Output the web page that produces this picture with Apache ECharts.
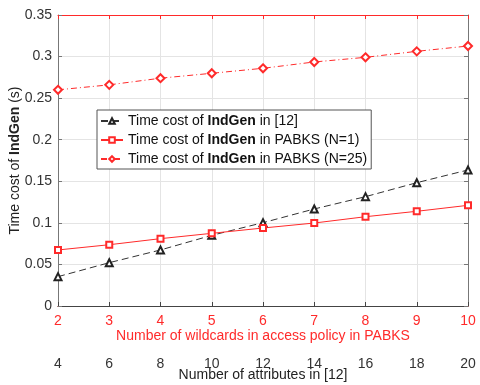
<!DOCTYPE html>
<html lang="en">
<head>
    <meta charset="UTF-8">
    <title>IndGen time cost</title>
    <script src="https://cdn.jsdelivr.net/npm/echarts@6/dist/echarts.min.js"></script>
    <style>
        html, body { margin: 0; padding: 0; background: #fff; }
        #chart { width: 480px; height: 385px; }
    </style>
</head>
<body>
    <div id="chart"></div>
    <script>
        // x values
        var wildcards = [2, 3, 4, 5, 6, 7, 8, 9, 10];
        var attributes = [4, 6, 8, 10, 12, 14, 16, 18, 20];

        // time cost (s)
        var costRef12 = [0.0353, 0.0521, 0.0674, 0.0850, 0.1002, 0.1167, 0.1315, 0.1483, 0.1636];
        var costN1 = [0.0674, 0.0737, 0.0810, 0.0874, 0.0938, 0.0998, 0.1074, 0.1139, 0.1211];
        var costN25 = [0.2600, 0.2660, 0.2740, 0.2799, 0.2859, 0.2935, 0.2991, 0.3063, 0.3127];

        var legendNames = ['ref12', 'n1', 'n25'];
        var legendText = {
            ref12: 'Time cost of {b|IndGen} in [12]',
            n1: 'Time cost of {b|IndGen} in PABKS (N=1)',
            n25: 'Time cost of {b|IndGen} in PABKS (N=25)'
        };

        function pairs(xs, ys) {
            return xs.map(function (x, i) { return [x, ys[i]]; });
        }

        var font = 'Liberation Sans';
        var red = '#ff2a2a';
        var chart = echarts.init(document.getElementById('chart'));

        var option = {
            textStyle: { fontFamily: font },
            animation: false,
            grid: { left: 58, right: 12, top: 15, bottom: 79, containLabel: false, outerBoundsMode: 'none' },
            legend: {
                data: legendNames,
                orient: 'vertical',
                left: 97,
                top: 110,
                backgroundColor: '#fff',
                borderColor: '#555',
                borderWidth: 1,
                padding: [4, 4, 3, 3],
                itemGap: 5,
                itemWidth: 22,
                itemHeight: 7,
                formatter: function (n) { return legendText[n]; },
                textStyle: {
                    fontFamily: font, fontSize: 14, color: '#111',
                    rich: { b: { fontWeight: 'bold', fontSize: 14, fontFamily: font, color: '#111' } }
                }
            },
            xAxis: [
                {
                    type: 'value', position: 'bottom', min: 2, max: 10, interval: 1,
                    name: 'Number of wildcards in access policy in PABKS',
                    nameLocation: 'middle', nameGap: 23, nameMoveOverlap: false,
                    nameTextStyle: { color: red, fontSize: 14, fontFamily: font },
                    axisLine: { lineStyle: { color: red } },
                    axisTick: { inside: true, length: 4, lineStyle: { color: red } },
                    axisLabel: { color: red, fontSize: 14, margin: 8, fontFamily: font },
                    splitLine: { show: true, lineStyle: { color: '#e4e4e4' } }
                },
                {
                    type: 'value', position: 'bottom', offset: 41, min: 4, max: 20, interval: 2,
                    name: 'Number of attributes in [12]',
                    nameLocation: 'middle', nameGap: 21, nameMoveOverlap: false,
                    nameTextStyle: { color: '#222', fontSize: 14, fontFamily: font },
                    axisLine: { lineStyle: { color: '#444' } },
                    axisTick: { inside: true, length: 4, lineStyle: { color: '#444' } },
                    axisLabel: { color: '#333', fontSize: 14, margin: 10, fontFamily: font },
                    splitLine: { show: false }
                },
                {
                    type: 'value', position: 'top', min: 2, max: 10, interval: 1,
                    axisLine: { lineStyle: { color: red } },
                    axisTick: { inside: true, length: 4, lineStyle: { color: red } },
                    axisLabel: { show: false },
                    splitLine: { show: false }
                }
            ],
            yAxis: [
                {
                    type: 'value', min: 0, max: 0.35, interval: 0.05,
                    name: 'Time cost of {b|IndGen} (s)',
                    nameLocation: 'middle', nameGap: 36, nameMoveOverlap: false,
                    nameTextStyle: {
                        color: '#222', fontSize: 14, fontFamily: font,
                        rich: { b: { fontWeight: 'bold', fontSize: 14, fontFamily: font, color: '#222' } }
                    },
                    axisLine: { show: true, lineStyle: { color: '#777' } },
                    axisTick: { inside: true, length: 4, lineStyle: { color: '#777' } },
                    axisLabel: {
                        color: '#333', fontSize: 14, margin: 6, fontFamily: font,
                        formatter: function (v) { return +v.toFixed(2) + ''; }
                    },
                    splitLine: { show: true, lineStyle: { color: '#e4e4e4' } }
                },
                {
                    type: 'value', position: 'right', min: 0, max: 0.35, interval: 0.05,
                    axisLine: { show: true, lineStyle: { color: '#777' } },
                    axisTick: { inside: true, length: 4, lineStyle: { color: '#777' } },
                    axisLabel: { show: false },
                    splitLine: { show: false }
                }
            ],
            series: [
                {
                    name: 'ref12', type: 'line', xAxisIndex: 1,
                    data: pairs(attributes, costRef12),
                    symbol: 'emptyTriangle', symbolSize: 7,
                    itemStyle: { color: '#222', borderWidth: 1 },
                    lineStyle: { color: '#333', width: 1, type: [7, 4] }
                },
                {
                    name: 'n1', type: 'line', xAxisIndex: 0,
                    data: pairs(wildcards, costN1),
                    symbol: 'emptyRect', symbolSize: 6,
                    itemStyle: { color: red, borderWidth: 1 },
                    lineStyle: { color: red, width: 1 }
                },
                {
                    name: 'n25', type: 'line', xAxisIndex: 0,
                    data: pairs(wildcards, costN25),
                    symbol: 'emptyDiamond', symbolSize: 8,
                    itemStyle: { color: red, borderWidth: 1 },
                    lineStyle: { color: red, width: 1, type: [6, 3, 1, 3] }
                }
            ]
        };

        chart.setOption(option);
    </script>
</body>
</html>
